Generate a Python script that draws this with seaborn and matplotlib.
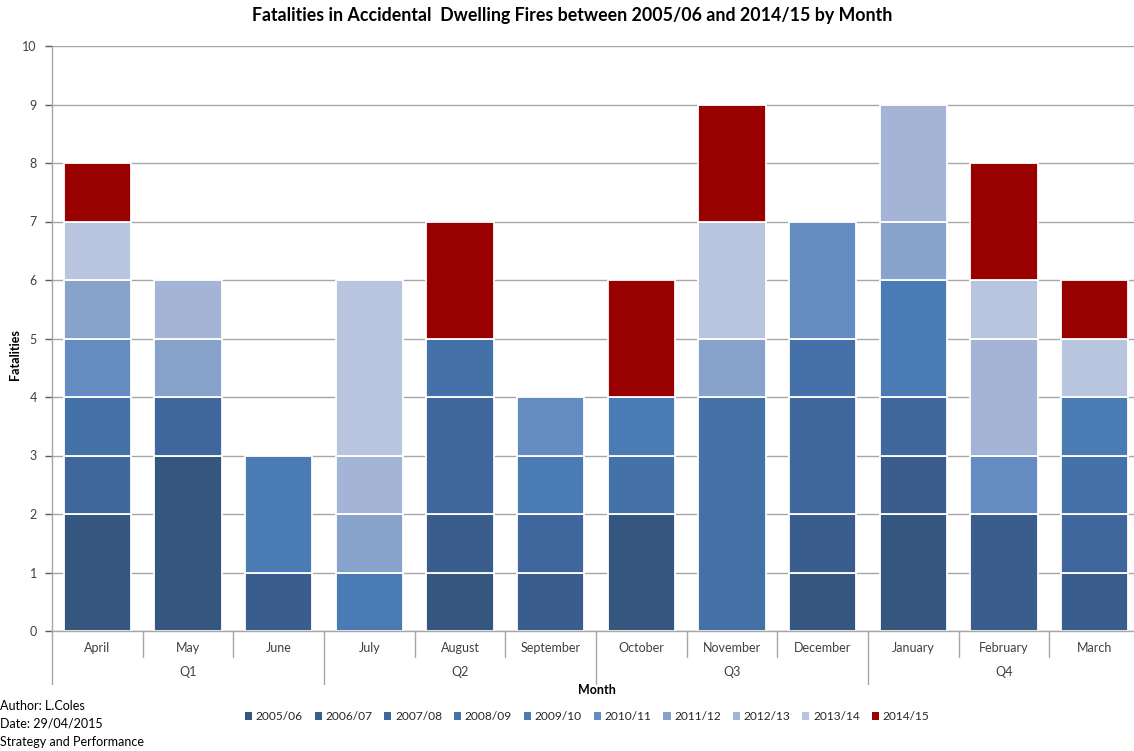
import matplotlib
matplotlib.use("Agg")
import matplotlib.pyplot as plt
import matplotlib.transforms as mtransforms
from matplotlib.patches import Patch
import numpy as np
import pandas as pd
import seaborn as sns

months = ["April", "May", "June", "July", "August", "September",
          "October", "November", "December", "January", "February", "March"]
quarters = ["Q1", "Q2", "Q3", "Q4"]
years = ["2005/06", "2006/07", "2007/08", "2008/09", "2009/10",
         "2010/11", "2011/12", "2012/13", "2013/14", "2014/15"]

# Fatalities per month for each year (April .. March)
fy_2005_06 = [2, 3, 0, 0, 1, 0, 2, 0, 1, 2, 0, 0]
fy_2006_07 = [0, 0, 1, 0, 1, 1, 0, 0, 1, 1, 2, 1]
fy_2007_08 = [1, 1, 0, 0, 2, 1, 0, 0, 2, 1, 0, 1]
fy_2008_09 = [1, 0, 0, 0, 1, 0, 1, 4, 1, 0, 0, 1]
fy_2009_10 = [0, 0, 2, 1, 0, 1, 1, 0, 0, 2, 0, 1]
fy_2010_11 = [1, 0, 0, 0, 0, 1, 0, 0, 2, 0, 1, 0]
fy_2011_12 = [1, 1, 0, 1, 0, 0, 0, 1, 0, 1, 0, 0]
fy_2012_13 = [0, 1, 0, 1, 0, 0, 0, 0, 0, 2, 2, 0]
fy_2013_14 = [1, 0, 0, 3, 0, 0, 0, 2, 0, 0, 1, 1]
fy_2014_15 = [1, 0, 0, 0, 2, 0, 2, 2, 0, 0, 2, 1]

series = [fy_2005_06, fy_2006_07, fy_2007_08, fy_2008_09, fy_2009_10,
          fy_2010_11, fy_2011_12, fy_2012_13, fy_2013_14, fy_2014_15]

colors = ["#34567f", "#3a5d8d", "#3f679e", "#4571a9", "#4a7bb5",
          "#658cc2", "#87a2cb", "#a3b4d6", "#b9c5de", "#990000"]

sns.set_theme(style="white")
plt.rcParams["font.family"] = ["Lato", "DejaVu Sans"]

fig = plt.figure(figsize=(11.34, 7.51), dpi=100)
ax = fig.add_axes([52 / 1134, 1 - 631 / 751, (1140 - 52) / 1134, (631 - 46) / 751])

# horizontal gridlines behind the bars
ax.set_axisbelow(True)
ax.yaxis.grid(True, color="#a6a6a6", linewidth=1.0)
ax.xaxis.grid(False)

bottom = np.zeros(len(months))
for year, vals, col in zip(years, series, colors):
    vals = np.array(vals, dtype=float)
    mask = vals > 0
    df = pd.DataFrame({"Month": np.array(months)[mask], "Fatalities": vals[mask]})
    sns.barplot(data=df, x="Month", y="Fatalities", order=months, color=col,
                bottom=bottom[mask], width=0.74, edgecolor="white",
                linewidth=1.3, saturation=1, ax=ax, errorbar=None, zorder=2)
    bottom += vals

ax.set_xlim(-0.5, len(months) - 0.5)
ax.set_ylim(0, 10)
ax.set_yticks(range(0, 11))
ax.tick_params(axis="y", labelsize=9, colors="#595959", length=5, width=1,
               left=True, pad=6)
ax.tick_params(axis="x", bottom=False, labelbottom=False)
for lab in ax.get_yticklabels():
    lab.set_color("#404040")

for side in ["top", "right"]:
    ax.spines[side].set_visible(False)
ax.spines["left"].set_color("#a6a6a6")
ax.spines["bottom"].set_color("#a6a6a6")
ax.spines["left"].set_linewidth(1)
ax.spines["bottom"].set_linewidth(1)
ax.set_xlabel("")
ax.set_ylabel("")

# two-level category axis: months and quarters
trans = mtransforms.blended_transform_factory(ax.transData, ax.transAxes)
ax_h = (631 - 46)
def frac(px):
    return -px / ax_h

for i, m in enumerate(months):
    ax.text(i, frac(17), m, transform=trans, ha="center", va="center",
            fontsize=9, color="#404040")
for i in range(1, len(months)):
    depth = 53 if i % 3 == 0 else 26
    ax.plot([i - 0.5, i - 0.5], [0, frac(depth)], transform=trans,
            color="#a6a6a6", linewidth=1, clip_on=False)
ax.plot([-0.5, -0.5], [0, frac(53)], transform=trans, color="#a6a6a6",
        linewidth=1, clip_on=False)
for q, name in enumerate(quarters):
    ax.text(q * 3 + 1, frac(41), name, transform=trans, ha="center",
            va="center", fontsize=9, color="#404040")

fig.text(597 / 1134, 1 - 690 / 751, "Month", ha="center", va="center",
         fontsize=9, fontweight="bold", color="black")
fig.text(15 / 1134, 1 - 355 / 751, "Fatalities", ha="center", va="center",
         rotation=90, fontsize=9, fontweight="bold", color="black")

fig.text(572 / 1134, 1 - 16 / 751,
         "Fatalities in Accidental  Dwelling Fires between 2005/06 and 2014/15 by Month",
         ha="center", va="center", fontsize=12.8, fontweight="bold", color="black")

handles = [Patch(facecolor=c, edgecolor="none", label=y) for y, c in zip(years, colors)]
fig.legend(handles=handles, loc="center", bbox_to_anchor=(587 / 1134, 1 - 717 / 751),
           ncol=10, frameon=False, fontsize=8.6, handlelength=0.6, handleheight=0.6,
           handletextpad=0.3, columnspacing=1.0)

for j, line in enumerate(["Author: L.Coles", "Date: 29/04/2015", "Strategy and Performance"]):
    fig.text(0, 1 - (706 + 18 * j) / 751, line, ha="left", va="center",
             fontsize=9, color="black")

fig.savefig("out.png", dpi=100)
